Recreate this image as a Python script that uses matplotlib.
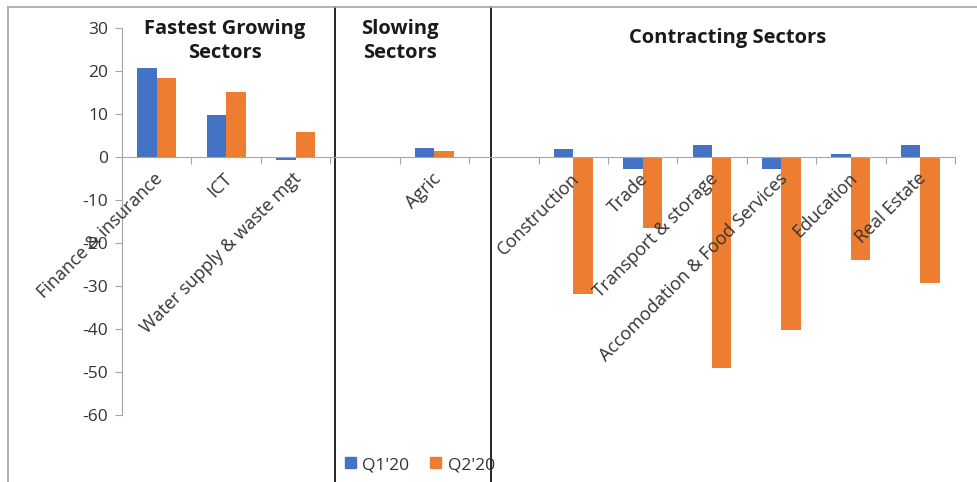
import numpy as np
from matplotlib import pyplot as plt
from matplotlib.patches import Patch
from matplotlib.transforms import blended_transform_factory

plt.rcParams['font.family'] = ['Open Sans', 'DejaVu Sans']

# sector names, '' marks an empty slot between the groups
categories = ['Finance & insurance', 'ICT', 'Water supply & waste mgt', '',
              'Agric', '',
              'Construction', 'Trade', 'Transport & storage',
              'Accomodation & Food Services', 'Education', 'Real Estate']
q1_2020 = [20.8, 9.8, -0.8, np.nan, 2.2, np.nan, 1.8, -2.9, 2.8, -2.8, 0.8, 2.8]
q2_2020 = [18.4, 15.0, 5.8, np.nan, 1.4, np.nan, -31.8, -16.5, -49.1, -40.2, -24.0, -29.3]
y_ticks = [30, 20, 10, 0, -10, -20, -30, -40, -50, -60]

group_titles = ['Fastest Growing\nSectors', 'Slowing\nSectors', 'Contracting Sectors']

blue = '#4472C4'
orange = '#ED7D31'
grey = '#A6A6A6'
text_col = '#333333'

W, H = 977, 482


def main():
    fig = plt.figure(figsize=(W / 100, H / 100), dpi=100)
    ax = fig.add_axes([122 / W, (H - 415) / H, (955 - 122) / W, (415 - 28) / H])

    x = np.arange(len(categories))
    width = 0.28
    ax.bar(x - width / 2, q1_2020, width, color=blue, label="Q1'20")
    ax.bar(x + width / 2, q2_2020, width, color=orange, label="Q2'20")

    ax.set_xlim(-0.5, len(categories) - 0.5)
    ax.set_ylim(-60, 30)
    ax.set_yticks(y_ticks)
    ax.set_yticklabels([str(v) for v in y_ticks], fontsize=12.5, color=text_col)

    # axis styling
    for side in ['top', 'right']:
        ax.spines[side].set_visible(False)
    ax.spines['bottom'].set_position(('data', 0))
    ax.spines['bottom'].set_color(grey)
    ax.spines['left'].set_color(grey)
    ax.set_xticks(np.arange(len(categories) + 1) - 0.5)
    ax.set_xticklabels([])
    ax.tick_params(axis='x', direction='out', length=5, color=grey)
    ax.tick_params(axis='y', direction='out', length=5, color=grey, pad=5)

    # rotated category labels below the zero line
    for i, name in enumerate(categories):
        if name:
            ax.annotate(name, xy=(i, 0), xytext=(7, -9), textcoords='offset points',
                        rotation=45, ha='right', va='top', fontsize=13, color=text_col)

    # frame and group dividers
    trans = blended_transform_factory(ax.transData, fig.transFigure)
    for xd in [2.57, 4.82]:
        ax.plot([xd, xd], [0, 1 - 7 / H], color='black', lw=1.2, transform=trans, clip_on=False)
    fig.add_artist(plt.Line2D([8 / W, 8 / W], [0, 1 - 7 / H], color=grey, lw=1.2))
    fig.add_artist(plt.Line2D([8 / W, 1], [1 - 7 / H, 1 - 7 / H], color=grey, lw=1.2))

    # group titles
    title_kw = dict(fontsize=14.5, fontweight='bold', ha='center', va='center',
                    linespacing=1.3, color='#1a1a1a')
    fig.text(225 / W, 1 - 41 / H, group_titles[0], **title_kw)
    fig.text(400 / W, 1 - 41 / H, group_titles[1], **title_kw)
    fig.text(728 / W, 1 - 38 / H, group_titles[2], **title_kw)

    # legend
    handles = [Patch(color=blue, label="Q1'20"), Patch(color=orange, label="Q2'20")]
    fig.legend(handles=handles, loc='center', bbox_to_anchor=(420 / W, 1 - 465 / H), ncol=2,
               frameon=False, fontsize=12.5, handlelength=0.6, handleheight=0.6,
               handletextpad=0.4, columnspacing=1.2, labelcolor=text_col)

    fig.savefig('out.png', dpi=100)


if __name__ == '__main__':
    main()
